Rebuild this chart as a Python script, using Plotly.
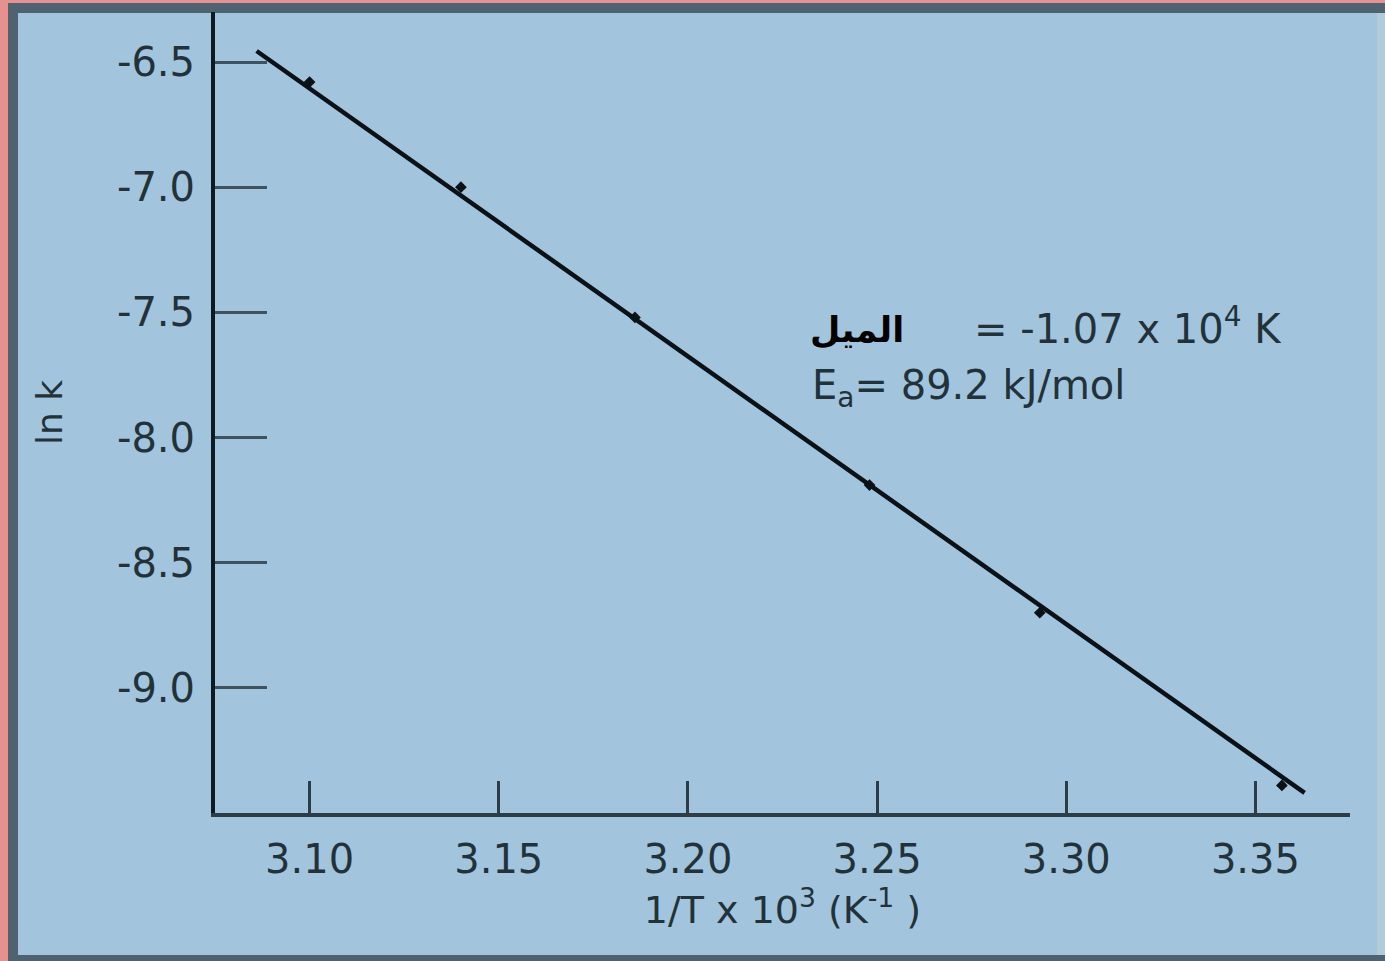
import plotly.graph_objects as go

# Measured rate constants (Arrhenius plot)
inv_T = [3.100, 3.140, 3.186, 3.248, 3.293, 3.357]   # 1/T x 10^3 (K^-1)
ln_k = [-6.58, -7.00, -7.52, -8.19, -8.70, -9.39]

# Fitted line: slope stated on the chart (-1.07 x 10^4 K -> -10.7 in these axis units)
slope = -10.7
fit_x_range = [3.086, 3.363]

x_ticks = [3.10, 3.15, 3.20, 3.25, 3.30, 3.35]
x_tick_text = ["3.10", "3.15", "3.20", "3.25", "3.30", "3.35"]
y_ticks = [-6.5, -7.0, -7.5, -8.0, -8.5, -9.0]
y_tick_text = ["-6.5", "-7.0", "-7.5", "-8.0", "-8.5", "-9.0"]

# fit passes through the centroid of the measurements
cx = sum(inv_T) / len(inv_T)
cy = sum(ln_k) / len(ln_k)
intercept = cy - slope * cx
fit_y = [intercept + slope * x for x in fit_x_range]

W, H = 1385, 961
L, R, T, B = 215, 1350, 12, 813

def px(x):
    return (x - L) / (R - L)

def py(y):
    return (B - y) / (B - T)

BLUE = "#a2c5dd"
PINK = "#e3928f"
FRAME = "#4f6272"
TEXT = "#22323b"

fig = go.Figure()
fig.add_trace(go.Scatter(
    x=fit_x_range, y=fit_y, mode="lines",
    line=dict(color="#0b1217", width=4.5), hoverinfo="skip", showlegend=False,
))
fig.add_trace(go.Scatter(
    x=inv_T, y=ln_k, mode="markers",
    marker=dict(color="#0b1217", size=9, symbol="diamond"), showlegend=False,
))

shapes = [
    # outer border and dark frame
    dict(type="rect", xref="paper", yref="paper", layer="below",
         x0=px(8), x1=px(W), y0=py(3), y1=py(H), fillcolor=FRAME, line=dict(width=0)),
    dict(type="rect", xref="paper", yref="paper", layer="below",
         x0=px(18), x1=px(1377), y0=py(13), y1=py(955), fillcolor=BLUE, line=dict(width=0)),
    dict(type="rect", xref="paper", yref="paper", layer="below",
         x0=px(1377), x1=px(W), y0=py(13), y1=py(955), fillcolor="#b3cbd9", line=dict(width=0)),
]

annotations = [
    dict(text="<b>الميل</b>", xref="paper", yref="paper", x=px(808), y=py(330),
         xanchor="left", yanchor="middle", showarrow=False,
         font=dict(family="DejaVu Sans", size=35, color="#000000")),
    dict(text="= -1.07 x 10<sup>4</sup> K", xref="paper", yref="paper", x=px(972), y=py(326),
         xanchor="left", yanchor="middle", showarrow=False,
         font=dict(family="DejaVu Sans", size=40, color=TEXT)),
    dict(text="E<sub>a</sub>= 89.2 kJ/mol", xref="paper", yref="paper", x=px(810), y=py(388),
         xanchor="left", yanchor="middle", showarrow=False,
         font=dict(family="DejaVu Sans", size=40, color=TEXT)),
]

fig.update_layout(
    width=W, height=H,
    margin=dict(l=L, r=W - R, t=T, b=H - B),
    paper_bgcolor=PINK,
    plot_bgcolor="rgba(0,0,0,0)",
    shapes=shapes,
    annotations=annotations,
    xaxis=dict(
        range=[3.075, 3.375], tickvals=x_ticks, ticktext=x_tick_text,
        ticks="inside", ticklen=32, tickwidth=3, tickcolor="#2c3d48",
        showline=True, linecolor="#2c3d48", linewidth=4, showgrid=False, zeroline=False,
        tickfont=dict(family="DejaVu Sans", size=40, color=TEXT),
        ticklabelstandoff=8,
        title=dict(text="1/T x 10<sup>3</sup> (K<sup>-1</sup> )",
                   font=dict(family="DejaVu Sans", size=38, color=TEXT), standoff=12),
    ),
    yaxis=dict(
        range=[-9.5, -6.3], tickvals=y_ticks, ticktext=y_tick_text,
        ticks="inside", ticklen=52, tickwidth=3, tickcolor="#3f525f",
        showline=True, linecolor="#0f1a20", linewidth=4, showgrid=False, zeroline=False,
        tickfont=dict(family="DejaVu Sans", size=40, color=TEXT),
        ticklabelstandoff=8,
        title=dict(text="ln k", font=dict(family="DejaVu Sans", size=36, color=TEXT), standoff=44),
    ),
)

fig.write_html("out.html")
